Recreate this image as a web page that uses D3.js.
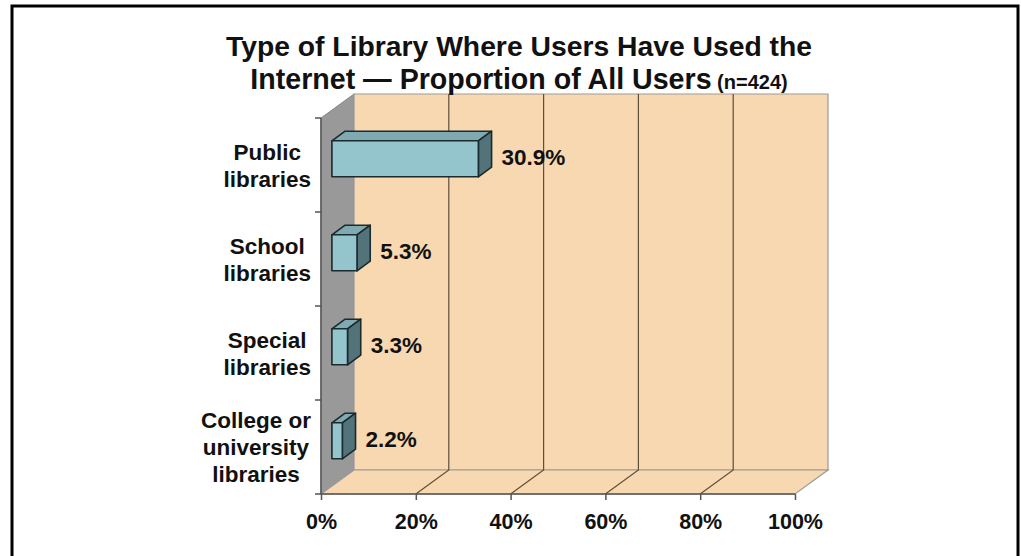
<!DOCTYPE html>
<html><head><meta charset="utf-8">
<script src="https://cdn.jsdelivr.net/npm/d3@7"></script>
<style>body{margin:0;background:#fff}svg{display:block}text{font-family:"Liberation Sans",Arial,sans-serif;font-weight:bold;fill:#111}</style>
</head><body>
<svg id="c" width="1021" height="556"></svg>
<script>
const categories = [["Public","libraries"],["School","libraries"],["Special","libraries"],["College or","university","libraries"]];
const values = [30.9, 5.3, 3.3, 2.2];
const valueLabels = ["30.9%","5.3%","3.3%","2.2%"];
const xTicks = [0,20,40,60,80,100];
const titleLines = ["Type of Library Where Users Have Used the","Internet \u2014 Proportion of All Users"];
const titleNote = "(n=424)";

(function(){
const svg = d3.select("#c");
svg.append("rect").attr("x",12).attr("y",6).attr("width",1006).attr("height",560).attr("fill","none").attr("stroke","#000").attr("stroke-width",3);

const x = d3.scaleLinear().domain([0,100]).range([321,795]);
const y = d3.scaleBand().domain(d3.range(categories.length)).range([118,494]);
const DX = 33, DY = -24;
const yTop = 118, yBot = 494;
const g = svg.append("g");

g.append("path").attr("d",`M${x(0)},${yTop}L${x(0)+DX},${yTop+DY}L${x(0)+DX},${yBot+DY}L${x(0)},${yBot}Z`).attr("fill","#999999").attr("stroke","#888").attr("stroke-width",1);
g.append("path").attr("d",`M${x(0)+DX},${yTop+DY}L${x(100)+DX},${yTop+DY}L${x(100)+DX},${yBot+DY}L${x(0)+DX},${yBot+DY}Z`).attr("fill","#F8D8B0").attr("stroke","#9a9a9a").attr("stroke-width",1.2);
g.append("path").attr("d",`M${x(0)},${yBot}L${x(100)},${yBot}L${x(100)+DX},${yBot+DY}L${x(0)+DX},${yBot+DY}Z`).attr("fill","#F8D8B0").attr("stroke","#9a9a9a").attr("stroke-width",1.2);
xTicks.slice(1,-1).forEach(t=>{
  g.append("path").attr("d",`M${x(t)},${yBot}L${x(t)+DX},${yBot+DY}L${x(t)+DX},${yTop+DY}`).attr("fill","none").attr("stroke","#5e4e3a").attr("stroke-width",1.2);
});

g.append("line").attr("x1",x(0)).attr("x2",x(0)).attr("y1",yTop).attr("y2",yBot).attr("stroke","#555").attr("stroke-width",1.5);
d3.range(categories.length+1).forEach(i=>{
  const yy = yTop + i*y.step();
  g.append("line").attr("x1",x(0)-6).attr("x2",x(0)).attr("y1",yy).attr("y2",yy).attr("stroke","#555").attr("stroke-width",1.5);
});
g.append("line").attr("x1",x(0)).attr("x2",x(100)).attr("y1",yBot).attr("y2",yBot).attr("stroke","#555").attr("stroke-width",1.5);
const xAxis = g.append("g").attr("transform",`translate(0,${yBot})`).call(d3.axisBottom(x).tickValues(xTicks).tickSize(6).tickFormat(d=>d+"%"));
xAxis.select(".domain").remove();
xAxis.selectAll("line").attr("stroke","#555").attr("stroke-width",1.5);
xAxis.selectAll("text").attr("font-size",21.5).attr("dy",0).attr("y",35).attr("fill","#111").style("font-family","Liberation Sans, Arial, sans-serif").style("font-weight","bold");

const f1 = 0.3, f2 = 0.7, bh = 36;
values.forEach((v,i)=>{
  const cy = y(i) + y.bandwidth()/2 + f1*DY + 1;
  const x0 = x(0) + f1*DX + 1, x1 = x(v) + f1*DX + 1;
  const y0 = cy - bh/2, y1 = cy + bh/2;
  const ox = (f2-f1)*DX, oy = (f2-f1)*DY;
  g.append("path").attr("d",`M${x0},${y0}L${x0+ox},${y0+oy}L${x1+ox},${y0+oy}L${x1},${y0}Z`).attr("fill","#7FAAB2").attr("stroke","#1b2a2c").attr("stroke-width",1.6).attr("stroke-linejoin","round");
  g.append("path").attr("d",`M${x1},${y0}L${x1+ox},${y0+oy}L${x1+ox},${y1+oy}L${x1},${y1}Z`).attr("fill","#52737A").attr("stroke","#1b2a2c").attr("stroke-width",1.6).attr("stroke-linejoin","round");
  g.append("path").attr("d",`M${x0},${y0}L${x1},${y0}L${x1},${y1}L${x0},${y1}Z`).attr("fill","#94C4CC").attr("stroke","#1b2a2c").attr("stroke-width",1.6).attr("stroke-linejoin","round");
  g.append("text").attr("x",x1+ox+10).attr("y",cy-2).attr("dy","0.36em").attr("font-size",22.5).text(valueLabels[i]);
});

// category labels: block right-aligned at 311, lines centred within block
const labelRight = 311;
categories.forEach((lines,i)=>{
  const cy = y(i) + y.bandwidth()/2;
  const lh = 27;
  const t = g.append("text").attr("text-anchor","middle").attr("font-size",22.5);
  const spans = lines.map((l,j)=> t.append("tspan").attr("y",cy + (j-(lines.length-1)/2)*lh).attr("dy","0.36em").text(l));
  const w = d3.max(spans, s => s.node().getComputedTextLength());
  spans.forEach(s => s.attr("x", labelRight - w/2));
});

svg.append("text").attr("x",519).attr("y",56).attr("text-anchor","middle").attr("font-size",28.3).text(titleLines[0]);
const t2 = svg.append("text").attr("x",519).attr("y",89).attr("text-anchor","middle").attr("font-size",28.6);
t2.append("tspan").text(titleLines[1]);
t2.append("tspan").attr("font-size",20).text(" "+titleNote);
})();
</script>
</body></html>
